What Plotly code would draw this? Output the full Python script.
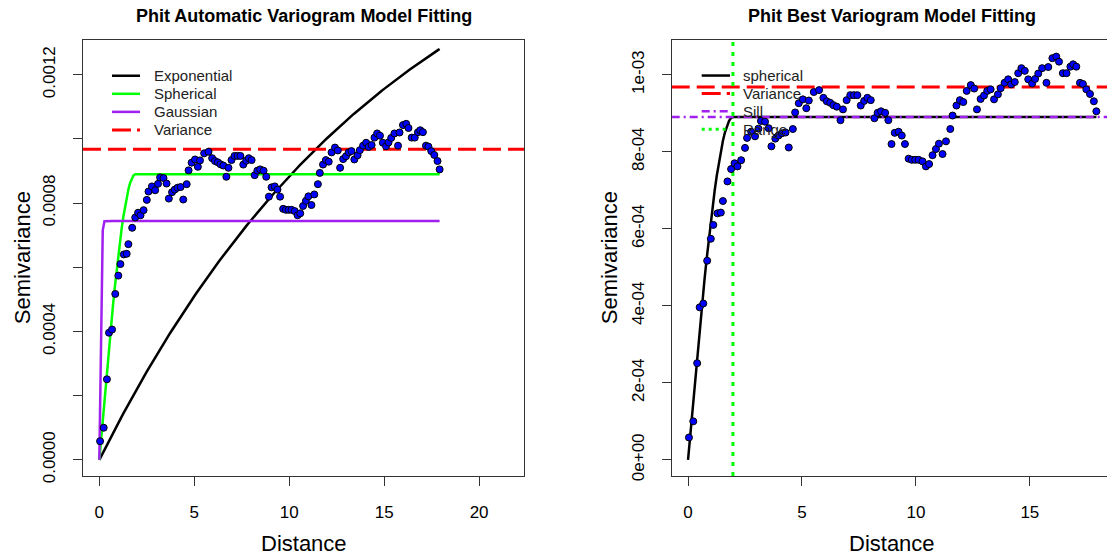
import numpy as np
import plotly.graph_objects as go

W, H = 1107, 559

# Empirical semivariogram of Phit (lag distance, semivariance in 1e-3 units)
dist = [0.04, 0.23, 0.40, 0.51, 0.67, 0.84, 1.00, 1.11, 1.29, 1.44,
        1.53, 1.73, 1.89, 2.04, 2.17, 2.33, 2.50, 2.59, 2.77, 2.94,
        3.09, 3.20, 3.38, 3.54, 3.66, 3.83, 3.97, 4.12, 4.28, 4.42,
        4.60, 4.70, 4.86, 5.04, 5.19, 5.30, 5.52, 5.75, 5.94, 6.09,
        6.24, 6.38, 6.53, 6.69, 6.80, 6.96, 7.12, 7.28, 7.43, 7.58,
        7.73, 7.87, 8.02, 8.18, 8.32, 8.47, 8.65, 8.79, 8.93, 9.07,
        9.24, 9.38, 9.52, 9.68, 9.82, 9.97, 10.12, 10.29, 10.44, 10.58,
        10.73, 10.88, 11.01, 11.17, 11.32, 11.51, 11.61, 11.78, 11.93, 12.08,
        12.23, 12.41, 12.56, 12.68, 12.84, 12.99, 13.13, 13.28, 13.43, 13.60,
        13.72, 13.89, 14.05, 14.18, 14.34, 14.49, 14.63, 14.78, 14.93, 15.10,
        15.23, 15.37, 15.54, 15.73, 15.81, 15.99, 16.16, 16.28, 16.45, 16.61,
        16.78, 16.90, 17.04, 17.20, 17.33, 17.48, 17.64, 17.81, 17.92]
gamma_milli = [0.058, 0.100, 0.251, 0.396, 0.406, 0.517, 0.574, 0.610, 0.640, 0.642,
               0.672, 0.723, 0.755, 0.770, 0.762, 0.778, 0.810, 0.836, 0.852, 0.840,
               0.860, 0.880, 0.878, 0.861, 0.814, 0.834, 0.842, 0.848, 0.850, 0.811,
               0.859, 0.902, 0.926, 0.936, 0.913, 0.933, 0.955, 0.960, 0.940, 0.931,
               0.927, 0.921, 0.917, 0.882, 0.910, 0.934, 0.947, 0.947, 0.947, 0.920,
               0.932, 0.940, 0.934, 0.887, 0.901, 0.905, 0.901, 0.882, 0.820, 0.849,
               0.852, 0.842, 0.820, 0.782, 0.779, 0.779, 0.779, 0.775, 0.762, 0.768,
               0.791, 0.807, 0.821, 0.794, 0.827, 0.859, 0.894, 0.920, 0.934, 0.929,
               0.958, 0.973, 0.964, 0.910, 0.937, 0.946, 0.958, 0.962, 0.936, 0.949,
               0.965, 0.979, 0.988, 0.975, 0.981, 1.004, 1.017, 1.010, 0.988, 0.977,
               0.989, 1.003, 1.017, 0.979, 1.020, 1.043, 1.047, 1.034, 1.004, 1.004,
               1.021, 1.027, 1.021, 0.979, 0.976, 0.962, 0.950, 0.931, 0.905]
semivar = np.array(gamma_milli) * 1e-3
dist = np.array(dist)

# Fitted model parameters
variance = 0.968e-3
exp_sill, exp_range = 1.9e-3, 16.0
sph_sill, sph_range = 0.89e-3, 1.9
gau_sill, gau_range = 0.744e-3, 0.10
best_sill, best_range = 0.89e-3, 1.97

# Tick labels
left_xticks = [0, 5, 10, 15, 20]
left_yticks = [0.0, 0.0002, 0.0004, 0.0006, 0.0008, 0.0010, 0.0012]
left_ytext = ["0.0000", "", "0.0004", "", "0.0008", "", "0.0012"]
right_xticks = [0, 5, 10, 15]
right_yticks = [0.0, 2e-4, 4e-4, 6e-4, 8e-4, 1e-3]
right_ytext = ["0e+00", "2e-04", "4e-04", "6e-04", "8e-04", "1e-03"]


def sph(h, c, a):
    r = np.minimum(h / a, 1.0)
    return c * (1.5 * r - 0.5 * r ** 3)


def expo(h, c, a):
    return c * (1 - np.exp(-h / a))


def gau(h, c, a):
    return c * (1 - np.exp(-(h / a) ** 2))


maxd = dist.max()
maxg = semivar.max()
h = np.linspace(0, maxd, 200)

# axis ranges (4% padding like base R)
lx = [-0.04 * 1.2 * maxd, 1.04 * 1.2 * maxd]
ly = [-0.04 * 1.2 * maxg, 1.04 * 1.2 * maxg]
rx_full = [-0.04 * maxd, 1.04 * maxd]
ry = [-0.04 * maxg, 1.04 * maxg]

# panel boxes in pixels
L0, L1 = 83, 524
R0 = 671.7
PW = L1 - L0
T, B = 41, 482
vis = (W - R0) / PW
rx = [rx_full[0], rx_full[0] + vis * (rx_full[1] - rx_full[0])]


def px(x):
    return x / W


def py(y):
    return 1 - y / H


FONT = "Liberation Sans, Arial, sans-serif"
BOX = "#333333"

fig = go.Figure()

# ---- left panel: automatic fits
fig.add_trace(go.Scatter(x=h, y=expo(h, exp_sill, exp_range), mode="lines",
                         line=dict(color="black", width=2.5), xaxis="x", yaxis="y"))
fig.add_trace(go.Scatter(x=h, y=sph(h, sph_sill, sph_range), mode="lines",
                         line=dict(color="#00FF00", width=2.5), xaxis="x", yaxis="y"))
fig.add_trace(go.Scatter(x=h, y=gau(h, gau_sill, gau_range), mode="lines",
                         line=dict(color="#A020F0", width=2.5), xaxis="x", yaxis="y"))
fig.add_trace(go.Scatter(x=lx, y=[variance, variance], mode="lines",
                         line=dict(color="#FF0000", width=3, dash="18px,7px"),
                         xaxis="x", yaxis="y"))
fig.add_trace(go.Scatter(x=dist, y=semivar, mode="markers",
                         marker=dict(size=7, color="#0000FF", line=dict(color="black", width=1)),
                         xaxis="x", yaxis="y"))

# ---- right panel: best spherical fit
fig.add_trace(go.Scatter(x=h, y=sph(h, best_sill, best_range), mode="lines",
                         line=dict(color="black", width=2.5), xaxis="x2", yaxis="y2"))
fig.add_trace(go.Scatter(x=rx, y=[variance, variance], mode="lines",
                         line=dict(color="#FF0000", width=3, dash="18px,7px"),
                         xaxis="x2", yaxis="y2"))
fig.add_trace(go.Scatter(x=rx, y=[best_sill, best_sill], mode="lines",
                         line=dict(color="#A020F0", width=2.5, dash="8px,4px,2px,4px"),
                         xaxis="x2", yaxis="y2"))
fig.add_trace(go.Scatter(x=[best_range, best_range], y=ry, mode="lines",
                         line=dict(color="#00FF00", width=3, dash="4px,6px"),
                         xaxis="x2", yaxis="y2"))
fig.add_trace(go.Scatter(x=dist, y=semivar, mode="markers",
                         marker=dict(size=7, color="#0000FF", line=dict(color="black", width=1)),
                         xaxis="x2", yaxis="y2"))

axis_common = dict(showgrid=False, zeroline=False, showline=True, linecolor=BOX,
                   linewidth=1, ticks="outside", ticklen=9, tickcolor=BOX, tickwidth=1,
                   tickfont=dict(family=FONT, size=17, color="black"))

fig.update_layout(
    width=W, height=H, margin=dict(l=0, r=0, t=0, b=0),
    paper_bgcolor="white", plot_bgcolor="white", showlegend=False,
    xaxis=dict(domain=[px(L0), px(L1)], range=lx, tickmode="array", tickvals=left_xticks,
               anchor="y", mirror=True, ticklabelstandoff=12, **axis_common),
    yaxis=dict(domain=[py(B), py(T)], range=ly, tickmode="array", tickvals=left_yticks,
               ticktext=left_ytext, tickangle=-90, anchor="x", mirror=True,
               ticklabelstandoff=11, **axis_common),
    xaxis2=dict(domain=[px(R0), 1.0], range=rx, tickmode="array", tickvals=right_xticks,
                anchor="y2", mirror=True, ticklabelstandoff=12, **axis_common),
    yaxis2=dict(domain=[py(B), py(T)], range=ry, tickmode="array", tickvals=right_yticks,
                ticktext=right_ytext, tickangle=-90, anchor="x2", mirror=False,
                ticklabelstandoff=11, **axis_common),
)

ann = []
lc = (L0 + L1) / 2
rc = R0 + PW / 2
for cx, title in [(lc, "Phit Automatic Variogram Model Fitting"),
                  (rc, "Phit Best Variogram Model Fitting")]:
    ann.append(dict(x=px(cx), y=py(16), xref="paper", yref="paper", text="<b>%s</b>" % title,
                    showarrow=False, xanchor="center", yanchor="middle",
                    font=dict(family=FONT, size=18, color="black")))
    ann.append(dict(x=px(cx), y=py(550), xref="paper", yref="paper", text="Distance",
                    showarrow=False, xanchor="center", yanchor="middle",
                    font=dict(family=FONT, size=22, color="black")))
for sx in [22, 609]:
    ann.append(dict(x=px(sx), y=py((T + B) / 2), xref="paper", yref="paper",
                    text="Semivariance", textangle=-90, showarrow=False,
                    xanchor="center", yanchor="middle",
                    font=dict(family=FONT, size=22, color="black")))

shapes = []
# legend, left panel
left_items = [("Exponential", "black", "solid", 2.5), ("Spherical", "#00FF00", "solid", 2.5),
              ("Gaussian", "#A020F0", "solid", 2.5), ("Variance", "#FF0000", "19px,6px", 3)]
for i, (lab, col, dash, w) in enumerate(left_items):
    yy = 76.7 + i * 18.3
    shapes.append(dict(type="line", xref="paper", yref="paper", x0=px(112), x1=px(140),
                       y0=py(yy), y1=py(yy), line=dict(color=col, width=w, dash=dash)))
    ann.append(dict(x=px(152), y=py(yy), xref="paper", yref="paper", text=lab,
                    showarrow=False, xanchor="left", yanchor="middle",
                    font=dict(family=FONT, size=15, color="#222222")))
# legend, right panel
right_items = [("spherical", "black", "solid", 2.5), ("Variance", "#FF0000", "19px,6px", 3),
               ("Sill", "#A020F0", "8px,4px,2px,4px", 2.5), ("Range", "#00FF00", "3px,4px", 3)]
for i, (lab, col, dash, w) in enumerate(right_items):
    yy = 76.5 + i * 18.1
    shapes.append(dict(type="line", xref="paper", yref="paper", x0=px(701.7), x1=px(730),
                       y0=py(yy), y1=py(yy), line=dict(color=col, width=w, dash=dash)))
    ann.append(dict(x=px(741), y=py(yy), xref="paper", yref="paper", text=lab,
                    showarrow=False, xanchor="left", yanchor="middle",
                    font=dict(family=FONT, size=15, color="#222222")))

fig.update_layout(annotations=ann, shapes=shapes)
fig.write_html("out.html")
